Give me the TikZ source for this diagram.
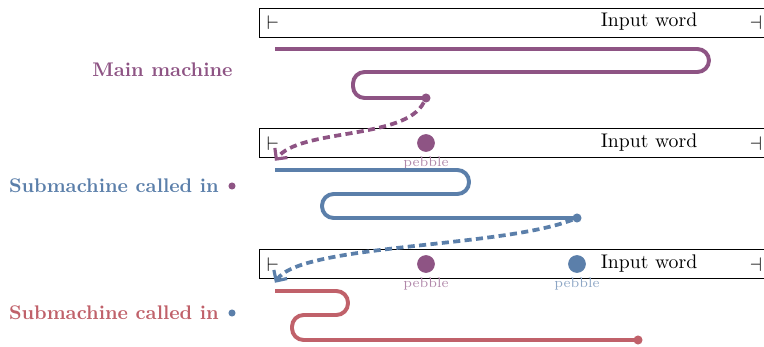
\documentclass[tikz,border=0pt]{standalone}
\usepackage{xcolor}
\usetikzlibrary{positioning,arrows.meta}
\definecolor{mainc}{HTML}{8E5484}
\definecolor{subb}{HTML}{5B7FAA}
\definecolor{subr}{HTML}{C0616A}

\begin{document}
\begin{tikzpicture}[x=0.507pt, y=-0.507pt,
        tape/.style={draw, rectangle, anchor=north west, minimum width=276pt, minimum height=14.9pt, inner sep=0pt},
        run/.style={line width=2pt, rounded corners=5.9pt},
        jump/.style={line width=1.9pt, dash pattern=on 3.6pt off 2.2pt, -{Straight Barb[length=4pt,width=8pt,line width=1.6pt]}},
        enddot/.style={circle, fill, inner sep=0pt, minimum size=4.6pt},
        pebble/.style={circle, fill, inner sep=0pt, minimum size=9pt},
        calldot/.style={circle, fill, inner sep=0pt, minimum size=3.6pt},
        machine/.style={font=\bfseries, inner sep=0pt},
        plabel/.style={font=\scriptsize, inner sep=0pt}
    ]
        \useasboundingbox (0,0) rectangle (764,347);

        % input tapes
        \node [tape] (tape1) at (259,8) {};
        \node (lend1) at (273,23) {$\vdash$};
        \node (word1) at (649,22) {Input word};
        \node (rend1) at (756,23) {$\dashv$};

        \node [tape] (tape2) at (259,128) {};
        \node (lend2) at (273,144) {$\vdash$};
        \node (word2) at (649,143) {Input word};
        \node (rend2) at (756,144) {$\dashv$};
        \node [pebble, mainc] (peb2a) at (426,143) {};
        \node [plabel, text=mainc!70, below=2pt of peb2a] {pebble};

        \node [tape] (tape3) at (259,249) {};
        \node (lend3) at (273,265) {$\vdash$};
        \node (word3) at (649,264) {Input word};
        \node (rend3) at (756,265) {$\dashv$};
        \node [pebble, mainc] (peb3a) at (426,264) {};
        \node [plabel, text=mainc!70, below=2pt of peb3a] {pebble};
        \node [pebble, subb] (peb3b) at (577,264) {};
        \node [plabel, text=subb!70, below=2pt of peb3b] {pebble};

        % runs
        \node [enddot, mainc] (end1) at (426,98) {};
        \draw [run, mainc] (275,49) -- (709,49) -- (709,72) -- (353,72) -- (353,98) -- (end1.center);

        \node [enddot, subb] (end2) at (577,218) {};
        \draw [run, subb] (275,170) -- (469,170) -- (469,194) -- (322,194) -- (322,218) -- (end2.center);

        \node [enddot, subr] (end3) at (638,340) {};
        \draw [run, subr] (275,291) -- (348,291) -- (348,315) -- (292,315) -- (292,340) -- (end3.center);

        % calls
        \draw [jump, mainc] (end1) .. controls (405,140) and (300,128) .. ([xshift=1pt,yshift=-1.5pt]lend2.south);
        \draw [jump, subb] (end2) .. controls (500,248) and (300,244) .. ([xshift=1pt,yshift=-2pt]lend3.south);

        % machine labels
        \node [machine, text=mainc, anchor=east] (lab1) at (233,70) {Main machine};
        \node [calldot, mainc] (call2) at (232,186) {};
        \node [machine, text=subb, left=4.5pt of call2] (lab2) {Submachine called in};
        \node [calldot, subb] (call3) at (232,313) {};
        \node [machine, text=subr, left=4.5pt of call3] (lab3) {Submachine called in};
    \end{tikzpicture}
\end{document}
